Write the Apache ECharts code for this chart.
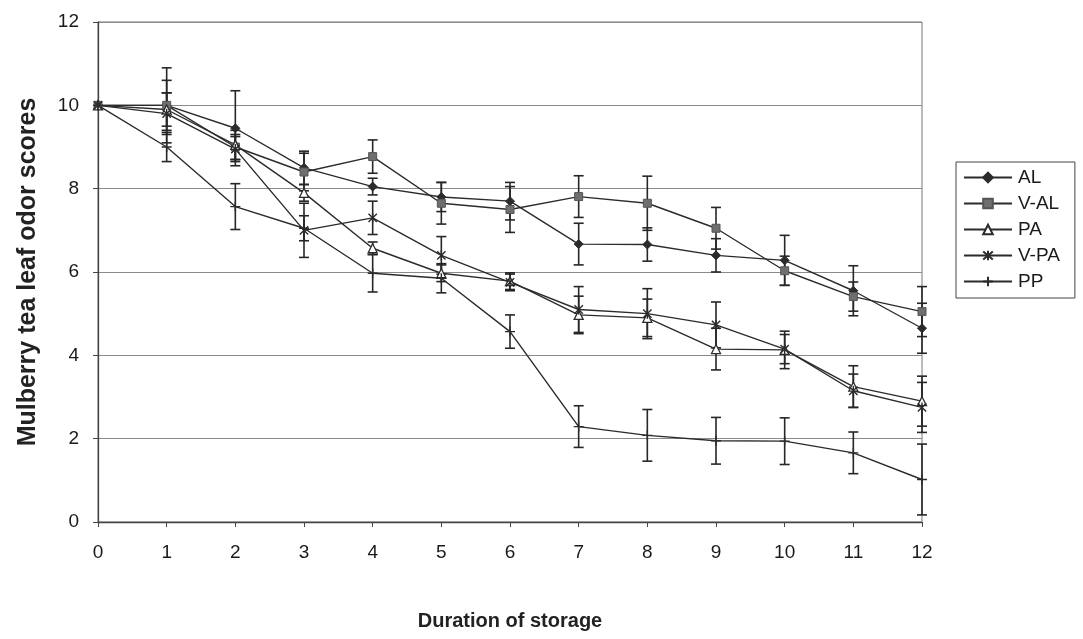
<!DOCTYPE html>
<html>
<head>
<meta charset="utf-8">
<script src="https://cdn.jsdelivr.net/npm/echarts@6/dist/echarts.min.js"></script>
<style>
html,body{margin:0;padding:0;background:#fff;}
#chart{width:1083px;height:639px;}
</style>
</head>
<body>
<div id="chart"></div>
<script>
// ---- data ----
const days = [0,1,2,3,4,5,6,7,8,9,10,11,12];
const seriesNames = ['AL','V-AL','PA','V-PA','PP'];
const AL      = [10, 10.0, 9.45, 8.50, 8.05, 7.80, 7.70, 6.67, 6.66, 6.40, 6.28, 5.55, 4.65];
const AL_err  = [0, 0.90, 0.90, 0.40, 0.20, 0.35, 0.45, 0.50, 0.40, 0.40, 0.60, 0.60, 0.60];
const VAL     = [10, 10.0, 9.00, 8.40, 8.77, 7.65, 7.50, 7.81, 7.65, 7.05, 6.03, 5.41, 5.05];
const VAL_err = [0, 0.60, 0.30, 0.45, 0.40, 0.50, 0.55, 0.50, 0.65, 0.50, 0.35, 0.35, 0.60];
const PA      = [10, 9.90, 9.05, 7.90, 6.57, 5.97, 5.78, 4.97, 4.90, 4.15, 4.13, 3.25, 2.90];
const PA_err  = [0, 0.40, 0.35, 0.20, 0.15, 0.20, 0.20, 0.45, 0.45, 0.50, 0.45, 0.50, 0.60];
const VPA     = [10, 9.80, 8.95, 7.00, 7.30, 6.40, 5.75, 5.10, 5.00, 4.73, 4.15, 3.15, 2.75];
const VPA_err = [0, 0.50, 0.30, 0.65, 0.40, 0.45, 0.20, 0.55, 0.60, 0.55, 0.35, 0.40, 0.60];
const PP      = [10, 9.00, 7.57, 7.05, 5.97, 5.85, 4.57, 2.29, 2.08, 1.95, 1.94, 1.66, 1.02];
const PP_err  = [0, 0.35, 0.55, 0.30, 0.45, 0.35, 0.40, 0.50, 0.62, 0.56, 0.56, 0.50, 0.85];
const yTicks = [0,2,4,6,8,10,12];

const values = [AL, VAL, PA, VPA, PP];
const errors = [AL_err, VAL_err, PA_err, VPA_err, PP_err];

const INK = '#2b2b2b';
const FONT = 'Liberation Sans, Arial, sans-serif';
const symbols = [
  {symbol:'diamond', size:9, itemStyle:{color:INK, borderColor:INK, borderWidth:1}},
  {symbol:'rect', size:8, itemStyle:{color:'#6e6e6e', borderColor:'#555', borderWidth:1}},
  {symbol:'triangle', size:9, itemStyle:{color:'#fff', borderColor:INK, borderWidth:1.3}},
  {symbol:'path://M0,0 L10,10 M10,0 L0,10 M5,-1 L5,11', size:10, itemStyle:{color:'none', borderColor:INK, borderWidth:1.4}},
  {symbol:'path://M5,0 L5,10 M0,5 L10,5', size:10, itemStyle:{color:'none', borderColor:INK, borderWidth:1.4}}
];

const series = [];
// error bars
values.forEach((vals, si) => {
  series.push({
    type:'custom',
    name: seriesNames[si] + ' err',
    silent:true,
    z:2,
    data: days.map((d,i)=>[d, vals[i]-errors[si][i], vals[i]+errors[si][i]]),
    renderItem: function(params, api){
      const x = api.value(0);
      const lo = api.coord([x, api.value(1)]);
      const hi = api.coord([x, api.value(2)]);
      if (Math.abs(lo[1]-hi[1]) < 0.5) return null;
      const w = 5;
      const st = {stroke:'#262626', lineWidth:1.6};
      return {type:'group', children:[
        {type:'line', shape:{x1:lo[0], y1:lo[1], x2:hi[0], y2:hi[1]}, style:st},
        {type:'line', shape:{x1:lo[0]-w, y1:lo[1], x2:lo[0]+w, y2:lo[1]}, style:st},
        {type:'line', shape:{x1:hi[0]-w, y1:hi[1], x2:hi[0]+w, y2:hi[1]}, style:st}
      ]};
    }
  });
});
// lines
values.forEach((vals, si) => {
  series.push({
    type:'line',
    name: seriesNames[si],
    z:3,
    data: days.map((d,i)=>[d, vals[i]]),
    symbol: symbols[si].symbol,
    symbolSize: symbols[si].size,
    symbolKeepAspect:true,
    showAllSymbol:true,
    lineStyle:{color:INK, width:1.4},
    itemStyle: symbols[si].itemStyle,
    emphasis:{disabled:true},
    animation:false
  });
});

const chart = echarts.init(document.getElementById('chart'), null, {renderer:'canvas'});
chart.setOption({
  animation:false,
  backgroundColor:'#fff',
  textStyle:{fontFamily:FONT},
  grid:{left:98, right:161, top:22, bottom:117, show:true, borderColor:'#777', borderWidth:1, backgroundColor:'transparent'},
  xAxis:{
    type:'value', min:0, max:12, interval:1,
    name:'Duration of storage', nameLocation:'middle', nameGap:89,
    nameTextStyle:{fontSize:20, fontWeight:'bold', color:'#222', fontFamily:FONT},
    axisLine:{lineStyle:{color:'#444', width:1.3}},
    axisTick:{show:true, length:5, lineStyle:{color:'#444'}},
    axisLabel:{fontSize:19, color:'#1a1a1a', margin:21},
    splitLine:{show:false}
  },
  yAxis:{
    type:'value', min:0, max:12, interval:2,
    name:'Mulberry tea leaf odor scores', nameLocation:'middle', nameGap:57, nameRotate:90,
    nameTextStyle:{fontSize:25, fontWeight:'bold', color:'#222', fontFamily:FONT},
    axisLine:{show:true, lineStyle:{color:'#444', width:1.3}},
    axisTick:{show:true, length:5, lineStyle:{color:'#444'}},
    axisLabel:{fontSize:19, color:'#1a1a1a', margin:19},
    splitLine:{show:true, lineStyle:{color:'#8a8a8a', width:1}}
  },
  legend:{
    data: seriesNames,
    orient:'vertical', left:956, top:162,
    itemWidth:48, itemHeight:12, itemGap:7,
    padding:[6,15,7,7],
    borderColor:'#444', borderWidth:1, backgroundColor:'#fff',
    textStyle:{fontSize:19, color:'#1a1a1a', padding:[0,0,0,1]},
    selectedMode:false
  },
  series: series
});
</script>
</body>
</html>
